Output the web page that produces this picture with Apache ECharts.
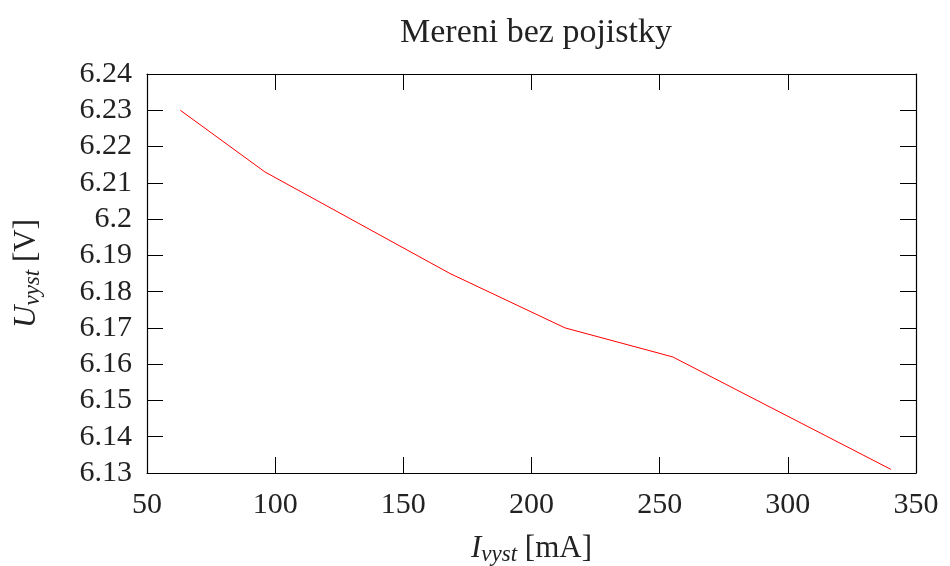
<!DOCTYPE html>
<html>
<head>
<meta charset="utf-8">
<script src="https://cdn.jsdelivr.net/npm/echarts@6/dist/echarts.min.js"></script>
<style>html,body{margin:0;padding:0;background:#fff}#c{width:950px;height:566px}</style>
</head>
<body>
<div id="c"></div>
<script>
const currentMA = [63, 96, 168.2, 213.1, 255.1, 340.2];
const voltageV = [6.230, 6.213, 6.185, 6.170, 6.162, 6.131];
const xTicks = [50, 100, 150, 200, 250, 300, 350];
const yTicks = [6.13, 6.14, 6.15, 6.16, 6.17, 6.18, 6.19, 6.2, 6.21, 6.22, 6.23, 6.24];

const FONT = '"Liberation Serif", "DejaVu Serif", serif';
const chart = echarts.init(document.getElementById('c'), null, {renderer: 'canvas'});
const tickStyle = {show: true, inside: true, length: 16, lineStyle: {color: '#000', width: 1}};
const axisLineStyle = {show: true, onZero: false, lineStyle: {color: '#000', width: 1.2}};
const nameRich = {
  i: {fontFamily: FONT, fontSize: 31, fontStyle: 'italic', color: '#222'},
  s: {fontFamily: FONT, fontSize: 23, fontStyle: 'italic', color: '#222', verticalAlign: 'bottom', padding: [12, 0, 0, 0]},
  n: {fontFamily: FONT, fontSize: 31, color: '#222'}
};
chart.setOption({
  animation: false,
  backgroundColor: '#fff',
  title: {
    text: 'Mereni bez pojistky',
    left: 531, top: 11, textAlign: 'center',
    textStyle: {fontFamily: FONT, fontSize: 34, fontWeight: 'normal', color: '#222'}
  },
  grid: {left: 147, right: 34, top: 74, bottom: 93, containLabel: false, outerBoundsMode: 'none'},
  xAxis: [{
    type: 'value', min: xTicks[0], max: xTicks[xTicks.length - 1], interval: 50,
    position: 'bottom',
    axisLine: axisLineStyle, axisTick: tickStyle, splitLine: {show: false},
    axisLabel: {fontFamily: FONT, fontSize: 30, color: '#222', margin: 17},
    name: '{i|I}{s|vyst}{n| [mA]}', nameLocation: 'middle', nameGap: 58,
    nameTextStyle: {rich: nameRich}
  }, {
    type: 'value', min: xTicks[0], max: xTicks[xTicks.length - 1], interval: 50,
    position: 'top',
    axisLine: axisLineStyle, axisTick: tickStyle, splitLine: {show: false},
    axisLabel: {show: false}
  }],
  yAxis: [{
    type: 'value', min: yTicks[0], max: yTicks[yTicks.length - 1], interval: 0.01,
    position: 'left',
    axisLine: axisLineStyle, axisTick: tickStyle, splitLine: {show: false},
    axisLabel: {fontFamily: FONT, fontSize: 30, color: '#222', margin: 15,
      formatter: v => String(parseFloat(v.toFixed(2)))},
    name: '{i|U}{s|vyst}{n| [V]}', nameLocation: 'middle', nameGap: 103, nameRotate: 90,
    nameTextStyle: {rich: nameRich}
  }, {
    type: 'value', min: yTicks[0], max: yTicks[yTicks.length - 1], interval: 0.01,
    position: 'right',
    axisLine: axisLineStyle, axisTick: tickStyle, splitLine: {show: false},
    axisLabel: {show: false}
  }],
  series: [{
    type: 'line',
    data: currentMA.map((x, i) => [x, voltageV[i]]),
    showSymbol: false, symbol: 'none',
    lineStyle: {color: '#ff0000', width: 1},
    xAxisIndex: 0, yAxisIndex: 0
  }]
});
</script>
</body>
</html>
